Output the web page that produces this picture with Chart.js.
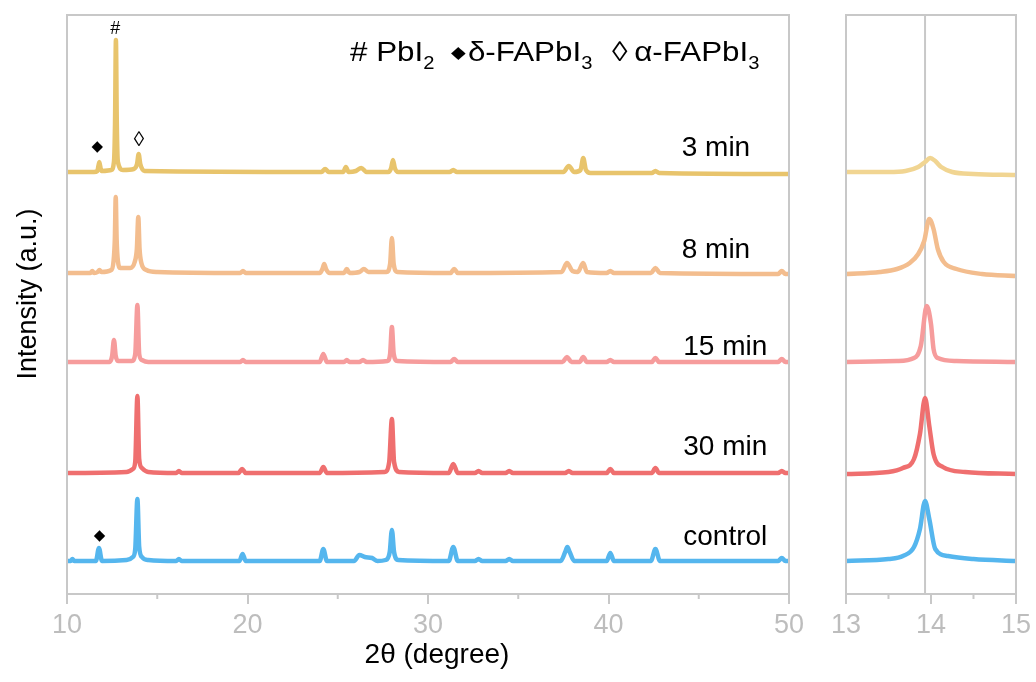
<!DOCTYPE html>
<html>
<head>
<meta charset="utf-8">
<script src="https://cdn.jsdelivr.net/npm/chart.js@4.4.0/dist/chart.umd.min.js"></script>
<style>
  body { margin: 0; background: #fff; }
  #wrap { position: relative; width: 1036px; height: 682px; }
  canvas { position: absolute; top: 0; }
  #main { left: 0; }
  #zoom { left: 815px; }
</style>
</head>
<body>
<div id="wrap">
  <canvas id="main" width="815" height="682"></canvas>
  <canvas id="zoom" width="221" height="682"></canvas>
</div>
<script>
// tick labels
const mainTicks = [10, 20, 30, 40, 50];
const mainMinor = [15, 25, 35, 45];
const zoomTicks = [13, 14, 15];
const zoomMinor = [13.5, 14.5];
const refLine = 13.93;

// samples, bottom to top (offset intensity, a.u.)
const samples = ['control', '30 min', '15 min', '8 min', '3 min'];

// full scans [2theta, intensity + offset]
const scanControl = [[10,33],[10.2,33],[10.3,35],[10.4,33],[11.6,33],[11.77,46],[11.94,33],
  [13.3,34],[13.65,37],[13.78,45],[13.9,95],[14.0,47],[14.15,37],[14.5,34],
  [16.05,33],[16.2,35],[16.35,33],[19.55,33],[19.73,40],[19.9,33],[24.0,33],[24.2,45],[24.4,33],
  [25.9,33],[26.2,39],[26.5,37],[26.9,36],[27.2,33],[27.65,34],[27.88,42],[28.0,64],[28.12,42],[28.35,34],
  [31.15,33],[31.4,47],[31.65,33],[32.6,33],[32.8,35],[33.0,33],[34.3,33],[34.5,35],[34.7,33],
  [37.35,33],[37.6,42],[37.72,47],[37.85,42],[38.1,33],[39.9,33],[40.1,41],[40.3,33],
  [42.35,33],[42.6,45],[42.85,33],[49.4,33],[49.6,36],[49.8,33],[50,33]];
const scan30 = [[10,121],[13.3,122],[13.65,125],[13.78,132],[13.9,198],[14.0,135],[14.15,126],[14.5,122],
  [16.05,121],[16.2,123],[16.35,121],[19.5,121],[19.7,125],[19.9,121],[24.0,121],[24.2,127],[24.4,121],
  [27.6,122],[27.85,132],[28.0,175],[28.12,132],[28.4,122],[31.15,121],[31.4,130],[31.65,121],
  [32.6,121],[32.8,123],[33.0,121],[34.3,121],[34.5,123],[34.7,121],[37.6,121],[37.8,123],[38.0,121],
  [39.9,121],[40.1,125],[40.3,121],[42.4,121],[42.6,126],[42.8,121],[49.4,121],[49.6,123],[49.8,121],[50,121]];
const scan15 = [[10,232],[12.35,232],[12.5,238],[12.6,254],[12.7,238],[12.85,233],
  [13.6,233],[13.78,240],[13.9,289],[14.0,240],[14.15,234],[14.5,232],
  [19.6,232],[19.75,234],[19.9,232],[24.0,232],[24.2,240],[24.4,232],
  [25.35,232],[25.5,234],[25.65,232],[26.2,232],[26.4,234],[26.6,232],
  [27.75,233],[27.9,240],[28.0,267],[28.1,240],[28.3,233],[31.25,232],[31.45,235],[31.65,232],
  [37.45,232],[37.7,237],[37.95,232],[38.4,232],[38.6,237],[38.8,232],[39.9,232],[40.1,234],[40.3,232],
  [42.4,232],[42.6,236],[42.8,232],[49.4,232],[49.6,235],[49.8,232],[50,232]];
const scan8 = [[10,321],[11.3,321],[11.4,323],[11.5,321],[11.7,322],[11.8,324],[11.9,322],
  [12.45,324],[12.58,333],[12.65,355],[12.7,397],[12.75,355],[12.82,333],[12.95,326],
  [13.5,326],[13.75,332],[13.87,345],[13.95,377],[14.02,345],[14.12,331],[14.4,324],[15,322],
  [19.6,321],[19.75,323],[19.9,321],[24.0,321],[24.15,325],[24.25,330],[24.35,325],[24.55,321],
  [25.35,321],[25.5,325],[25.65,321],[26.2,322],[26.45,325],[26.7,322],
  [27.7,322],[27.9,330],[28.0,356],[28.1,330],[28.3,322],[31.25,321],[31.45,325],[31.65,321],
  [37.4,322],[37.7,331],[38.0,323],[38.3,322],[38.6,331],[38.8,322],[39.9,321],[40.1,323],[40.3,321],
  [42.35,321],[42.6,326],[42.85,321],[49.4,320],[49.6,323],[49.8,320],[50,320]];
const scan3 = [[10,422],[11.5,422],[11.68,423],[11.79,432],[11.9,423],
  [12.45,424],[12.6,432],[12.66,470],[12.71,554],[12.76,470],[12.82,432],[13.1,424],
  [13.7,425],[13.88,430],[13.97,440],[14.06,430],[14.3,423],
  [24.1,422],[24.3,425],[24.5,422],[25.3,422],[25.45,427],[25.6,422],[26.0,423],[26.3,426],[26.6,422],
  [27.8,422],[27.96,426],[28.06,434],[28.16,426],[28.35,422],[31.2,422],[31.4,424],[31.6,422],
  [37.5,422],[37.8,428],[38.1,422],[38.45,424],[38.6,436],[38.75,424],[39,421],
  [42.4,421],[42.6,423],[42.8,421],[50,420]];

// (100) region 13-15 degree
const zoomControl = [[13,33],[13.5,35],[13.67,38],[13.8,47],[13.87,65],[13.93,93],[13.98,75],[14.05,45],[14.2,38],[14.5,35],[15,33]];
const zoom30 = [[13,120],[13.5,122],[13.67,126],[13.8,135],[13.87,160],[13.93,196],[13.98,168],[14.03,140],[14.14,127],[14.4,122],[15,120]];
const zoom15 = [[13,232],[13.6,233],[13.8,236],[13.88,248],[13.95,288],[14.0,270],[14.03,245],[14.08,236],[14.3,233],[15,232]];
const zoom8 = [[13,320],[13.4,322],[13.6,325],[13.75,331],[13.85,340],[13.92,353],[13.98,375],[14.03,365],[14.08,345],[14.15,332],[14.3,325],[14.6,320],[15,318]];
const zoom3 = [[13,422],[13.5,422],[13.7,423],[13.85,427],[13.93,432],[13.99,436],[14.05,433],[14.12,427],[14.25,422],[14.5,420],[15,419]];

const FONT = '"Liberation Sans", Arial, sans-serif';
const mainColors = ['#55b6ee', '#ef6f6f', '#f69c9c', '#f3bd8e', '#e8c46c'];
const zoomColors = ['#55b6ee', '#ef6f6f', '#f69c9c', '#f3bd8e', '#f1d592'];
const gray = '#c8c8c8';

function toXY(arr) { return arr.map(p => ({ x: p[0], y: p[1] })); }

function makeSets(scans, colors) {
  return scans.map((s, i) => ({
    label: samples[i],
    data: toXY(s),
    borderColor: colors[i],
    borderWidth: 4.5,
    pointRadius: 0,
    cubicInterpolationMode: 'monotone',
    fill: false
  }));
}

function xAxis(min, max, ticks) {
  return {
    type: 'linear', min: min, max: max,
    afterFit: function(s) { s.height = 88; },
    afterBuildTicks: function(s) { s.ticks = ticks.map(v => ({ value: v })); },
    ticks: { font: { family: FONT, size: 27 }, color: '#bdbdbd', padding: 5, maxRotation: 0, autoSkip: false },
    grid: { drawOnChartArea: false, tickLength: 10, color: gray, lineWidth: 2 },
    border: { color: gray, width: 2 }
  };
}

function frame(ctx, a) {
  ctx.save();
  ctx.strokeStyle = gray;
  ctx.lineWidth = 2;
  ctx.beginPath();
  ctx.moveTo(a.left, a.bottom);
  ctx.lineTo(a.left, a.top);
  ctx.lineTo(a.right, a.top);
  ctx.lineTo(a.right, a.bottom);
  ctx.stroke();
  ctx.restore();
}

function minorTicks(ctx, chart, vals) {
  const x = chart.scales.x, b = chart.chartArea.bottom;
  ctx.save();
  ctx.strokeStyle = gray;
  ctx.lineWidth = 2;
  vals.forEach(v => {
    const px = x.getPixelForValue(v);
    ctx.beginPath();
    ctx.moveTo(px, b);
    ctx.lineTo(px, b + 5);
    ctx.stroke();
  });
  ctx.restore();
}

// text with a subscript tail, stretched a little sideways like the original key
function rich(ctx, parts, x, y, size, stretch) {
  ctx.save();
  ctx.translate(x, y);
  ctx.scale(stretch, 1);
  let cx = 0;
  parts.forEach(p => {
    if (p.sub) {
      ctx.font = Math.round(size * 0.65) + 'px ' + FONT;
      ctx.fillText(p.t, cx, size * 0.28);
    } else {
      ctx.font = (p.size || size) + 'px ' + (p.fam || FONT);
      ctx.fillText(p.t, cx, p.dy || 0);
    }
    cx += ctx.measureText(p.t).width + (p.gap || 0);
  });
  ctx.restore();
}

// label anchors for sample names: [x value of right edge, y value of text centre]
const labelPos = [[48.8, 57], [48.8, 147], [48.8, 247], [47.85, 344], [47.85, 446]];

const mainDecor = {
  id: 'mainDecor',
  afterDraw(chart) {
    const ctx = chart.ctx, a = chart.chartArea;
    const x = chart.scales.x, y = chart.scales.y;
    frame(ctx, a);
    minorTicks(ctx, chart, mainMinor);
    ctx.save();
    ctx.fillStyle = '#000';
    ctx.textBaseline = 'middle';
    ctx.textAlign = 'right';
    ctx.font = '28px ' + FONT;
    samples.forEach((s, i) => {
      ctx.fillText(s, x.getPixelForValue(labelPos[i][0]), y.getPixelForValue(labelPos[i][1]));
    });
    // peak markers
    ctx.textAlign = 'center';
    ctx.font = '18px ' + FONT;
    ctx.fillText('#', x.getPixelForValue(12.68), y.getPixelForValue(565));
    ctx.font = '15px "DejaVu Sans"';
    ctx.fillText('\u25C6', x.getPixelForValue(11.68), y.getPixelForValue(447));
    ctx.fillText('\u25C6', x.getPixelForValue(11.8), y.getPixelForValue(58));
    ctx.font = '21px ' + FONT;
    ctx.fillText('\u25CA', x.getPixelForValue(13.99), y.getPixelForValue(454));
    // phase key
    ctx.textAlign = 'left';
    ctx.textBaseline = 'alphabetic';
    rich(ctx, [{ t: '# PbI' }, { t: '2', sub: true }], 350, 61, 28, 1.12);
    rich(ctx, [{ t: '\u25C6', size: 17, fam: '"DejaVu Sans"', dy: -3, gap: 2 }, { t: '\u03B4-FAPbI' }, { t: '3', sub: true }], 451, 61, 28, 1.12);
    rich(ctx, [{ t: '\u25CA', gap: 6 }, { t: '\u03B1-FAPbI' }, { t: '3', sub: true }], 612, 61, 28, 1.12);
    // axis titles
    ctx.textAlign = 'center';
    ctx.textBaseline = 'middle';
    ctx.font = '28px ' + FONT;
    ctx.fillText('2\u03B8 (degree)', 437, 655);
    ctx.font = '27px ' + FONT;
    ctx.translate(29, 294);
    ctx.rotate(-Math.PI / 2);
    ctx.fillText('Intensity (a.u.)', 0, 0);
    ctx.restore();
  }
};

const zoomDecor = {
  id: 'zoomDecor',
  beforeDatasetsDraw(chart) {
    const ctx = chart.ctx, a = chart.chartArea;
    const px = chart.scales.x.getPixelForValue(refLine);
    ctx.save();
    ctx.strokeStyle = gray;
    ctx.lineWidth = 2;
    ctx.beginPath();
    ctx.moveTo(px, a.top);
    ctx.lineTo(px, a.bottom);
    ctx.stroke();
    ctx.restore();
  },
  afterDraw(chart) {
    frame(chart.ctx, chart.chartArea);
    minorTicks(chart.ctx, chart, zoomMinor);
  }
};

function baseOptions(pad, xmin, xmax, ticks) {
  return {
    responsive: false,
    animation: false,
    layout: { padding: pad },
    plugins: { legend: { display: false }, tooltip: { enabled: false } },
    scales: {
      x: xAxis(xmin, xmax, ticks),
      y: { display: false, min: 0, max: 579 }
    }
  };
}

new Chart(document.getElementById('main'), {
  type: 'line',
  data: { datasets: makeSets([scanControl, scan30, scan15, scan8, scan3], mainColors) },
  options: baseOptions({ left: 67, right: 26, top: 15, bottom: 0 }, 10, 50, mainTicks),
  plugins: [mainDecor]
});

new Chart(document.getElementById('zoom'), {
  type: 'line',
  data: { datasets: makeSets([zoomControl, zoom30, zoom15, zoom8, zoom3], zoomColors) },
  options: baseOptions({ left: 31, right: 18, top: 15, bottom: 0 }, 13, 15, zoomTicks),
  plugins: [zoomDecor]
});
</script>
</body>
</html>
